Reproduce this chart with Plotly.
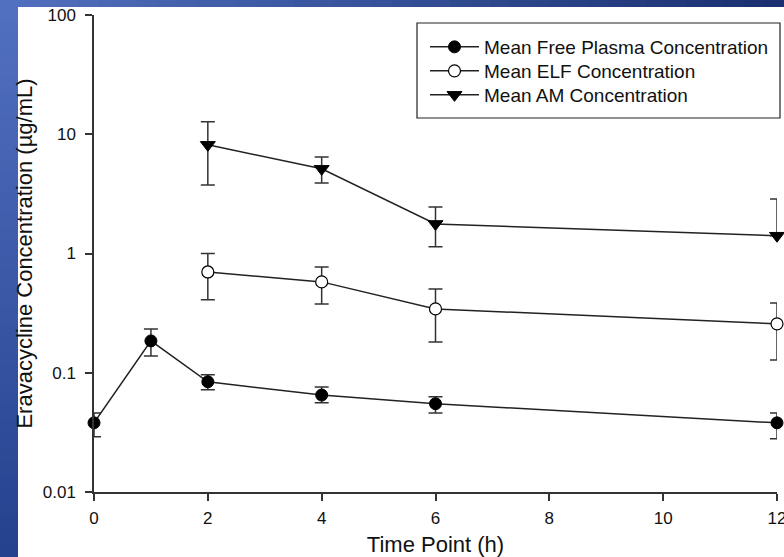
import plotly.graph_objects as go

# ---- data ----
plasma_t = [0, 1, 2, 4, 6, 12]
plasma_y = [0.038, 0.185, 0.084, 0.065, 0.055, 0.038]
plasma_up = [0.046, 0.233, 0.096, 0.076, 0.063, 0.046]
plasma_lo = [0.029, 0.138, 0.072, 0.056, 0.046, 0.028]

elf_t = [2, 4, 6, 12]
elf_y = [0.70, 0.578, 0.343, 0.257]
elf_up = [1.0, 0.77, 0.505, 0.385]
elf_lo = [0.41, 0.377, 0.181, 0.128]

am_t = [2, 4, 6, 12]
am_y = [8.15, 5.13, 1.77, 1.41]
am_up = [12.7, 6.46, 2.46, 2.87]
am_lo = [3.76, 3.91, 1.14, 1.41]

x_ticks = [0, 2, 4, 6, 8, 10, 12]
y_ticks = [0.01, 0.1, 1, 10, 100]
y_tick_labels = ["0.01", "0.1", "1", "10", "100"]

names = ["Mean Free Plasma Concentration", "Mean ELF Concentration", "Mean AM Concentration"]

W, H = 784, 557
L, R, T, B = 94, 7, 15, 65
PW, PH = W - L - R, H - T - B

def px(x):
    return (x - L) / PW

def py(y):
    return (H - B - y) / PH

INK = "#222222"
AX = "#333333"
FONT = "Liberation Sans, Arial, sans-serif"

def err(y, up, lo):
    return dict(type="data", symmetric=False,
                array=[u - v for u, v in zip(up, y)],
                arrayminus=[v - l for v, l in zip(y, lo)],
                color=AX, thickness=1.5, width=7)

fig = go.Figure()
fig.add_trace(go.Scatter(x=plasma_t, y=plasma_y, name=names[0], mode="lines+markers",
                         cliponaxis=False, legend="legend",
                         line=dict(color=INK, width=1.5),
                         marker=dict(symbol="circle", size=12, color="black", line=dict(color="black", width=1)),
                         error_y=err(plasma_y, plasma_up, plasma_lo)))
fig.add_trace(go.Scatter(x=elf_t, y=elf_y, name=names[1], mode="lines+markers",
                         cliponaxis=False, legend="legend2",
                         line=dict(color=INK, width=1.5),
                         marker=dict(symbol="circle", size=12, color="white", line=dict(color="black", width=1.2)),
                         error_y=err(elf_y, elf_up, elf_lo)))
fig.add_trace(go.Scatter(x=am_t, y=am_y, name=names[2], mode="lines+markers",
                         cliponaxis=False, legend="legend3",
                         line=dict(color=INK, width=1.5),
                         marker=dict(symbol="triangle-down", size=13, color="black", line=dict(color="black", width=1)),
                         error_y=err(am_y, am_up, am_lo)))

# blue slide frame (gradient strips)
shapes = []
n = 40
c0, c1 = (82, 112, 192), (26, 48, 112)
for i in range(n):
    f = i / (n - 1)
    c = tuple(int(a + (b - a) * f) for a, b in zip(c0, c1))
    x0 = W * i / n
    x1 = W * (i + 1) / n + 1
    shapes.append(dict(type="rect", xref="paper", yref="paper", layer="below",
                       x0=px(x0), x1=px(x1), y0=py(7), y1=py(0),
                       fillcolor="rgb(%d,%d,%d)" % c, line=dict(width=0)))
d0, d1 = (82, 112, 192), (36, 66, 142)
for i in range(n):
    f = i / (n - 1)
    c = tuple(int(a + (b - a) * f) for a, b in zip(d0, d1))
    y0 = 7 + (H - 7) * i / n
    y1 = 7 + (H - 7) * (i + 1) / n + 1
    shapes.append(dict(type="rect", xref="paper", yref="paper", layer="below",
                       x0=px(0), x1=px(18), y0=py(y1), y1=py(y0),
                       fillcolor="rgb(%d,%d,%d)" % c, line=dict(width=0)))

# legend frame
shapes.append(dict(type="rect", xref="paper", yref="paper", layer="below",
                   x0=px(417), x1=px(780), y0=py(118), y1=py(23),
                   fillcolor="white", line=dict(color="#222222", width=1.2)))

def leg(row_y):
    return dict(x=px(425), y=py(row_y), xanchor="left", yanchor="middle",
                bgcolor="rgba(0,0,0,0)", borderwidth=0,
                font=dict(size=19, family=FONT, color="#111111"),
                itemwidth=49)

fig.update_layout(
    width=W, height=H,
    margin=dict(l=L, r=R, t=T, b=B, autoexpand=False),
    paper_bgcolor="white", plot_bgcolor="white",
    font=dict(family=FONT, color="#111111", size=17),
    shapes=shapes,
    showlegend=True,
    legend=leg(47), legend2=leg(71), legend3=leg(95),
    xaxis=dict(range=[0, 12], tickvals=x_ticks, showline=True, linecolor=AX, linewidth=1.5,
               ticks="outside", ticklen=7, tickwidth=1.5, tickcolor=AX, showgrid=False, zeroline=False,
               tickfont=dict(size=17), ticklabeloverflow="allow", ticklabelstandoff=3, automargin=False,
               title=dict(text="Time Point (h)", font=dict(size=22), standoff=10)),
    yaxis=dict(type="log", range=[-2, 2], tickvals=y_ticks, ticktext=y_tick_labels,
               showline=True, linecolor=AX, linewidth=1.5,
               ticks="outside", ticklen=7, tickwidth=1.5, tickcolor=AX, showgrid=False, zeroline=False,
               tickfont=dict(size=17), ticklabelstandoff=6, automargin=False,
               title=dict(text="Eravacycline Concentration (µg/mL)", font=dict(size=22), standoff=4)),
)

fig.write_html("out.html")
